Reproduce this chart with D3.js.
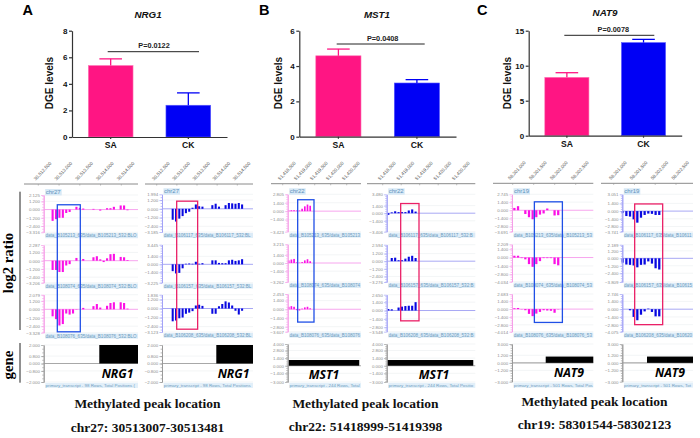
<!DOCTYPE html>
<html><head><meta charset="utf-8">
<script src="https://cdn.jsdelivr.net/npm/d3@7"></script>
<style>
html,body{margin:0;padding:0;background:#fff;overflow:hidden}
svg{display:block}
</style></head><body><svg id="c" width="700" height="438" font-family="Liberation Sans"></svg>
<script>
/* ---------- bar chart data ---------- */
const groups = ["SA","CK"];
const dgeNRG1 = [5.38,2.39], errNRG1 = [5.88,3.32], yTicksNRG1 = [0,2,4,6,8];
const dgeMST1 = [4.58,3.04], errMST1 = [4.96,3.23], yTicksMST1 = [0,2,4,6];
const dgeNAT9 = [8.34,13.3], errNAT9 = [9.0,13.76], yTicksNAT9 = [0,5,10,15];
const pLabels = ["P=0.0122","P=0.0408","P=0.0078"];
const locations = ["chr27: 30513007-30513481","chr22: 51418999-51419398","chr19: 58301544-58302123"];
const chroms = ["chr27","chr22","chr19"];
const transcriptRows = ["98","244","501"];

/* ---------- genome ruler ticks ---------- */
const rulerNRG1 = [30512500,30513000,30513500,30514000,30514500];
const rulerMST1 = [51418500,51419000,51419500,51420000,51420500];
const rulerNAT9 = [58301000,58301500,58302000,58302500];

/* ---------- probe values (one per probe slot) ---------- */
const nrgSA1 = [-1.65,-1.4,-1.2,-1.2,-.5,-.35,0,.4,.25,.15,0,0,.1,0,-.15,0,.2,.2,.4,0,.6,.6,-.1];
const nrgSA2 = [-1.35,-1.35,-1.65,-1.65,-.7,-.5,0,.4,0,.25,0,0,.5,.65,.2,-.2,.35,.95,1,0,.55,.5,.1];
const nrgSA3 = [-1,-1.4,-2.3,-2.1,-.6,-.75,-.6,-.05,0,.2,0,0,.45,.75,.25,0,.5,.9,1,0,1,.9,.1];
const nrgCK1 = [-1.5,-1.75,-1.35,-1,-.6,-.4,.15,.6,.35,.3,0,0,.5,.7,.3,0,.5,.8,.75,.7,.8,.6];
const nrgCK2 = [-1.2,-1.6,-1.5,-.7,.1,.15,.1,.45,.1,.2,0,0,.7,.7,.25,.2,.2,.7,.8,.6,.7,.9];
const nrgCK3 = [-1.7,-1.6,-1.3,-1.2,-.7,-.55,-.35,.4,.5,.35,0,0,-.7,-.7,.3,.6,.95,.8,.4,-.3,-.8,-.3];
const mstSA1 = [.1,.15,.15,.1,.1,.4,.8,1.1,.9];
const mstSA2 = [.45,.6,.7,.1,.05,.15,.45,.65,.3];
const mstSA3 = [.4,.5,.4,-.15,-.2,.1,.3,.4,.15];
const mstCK1 = [-.3,.15,.35,.2,.2,.2,.5,.7,.3];
const mstCK2 = [0,.5,.55,.15,.15,.4,.7,.85,.5];
const mstCK3 = [.25,.2,0,.5,.65,.75,.8,.8,1.4];
const natSA1 = [.4,.7,0,-.65,-1.2,-1.55,-1.2,-.75,-.55,.3,0,-.9,-.85];
const natSA2 = [.3,.3,-.1,-.3,-1.1,-1.55,-1.1,-.6,-.1,-.1,-.1,-1.1,-1.3];
const natSA3 = [.15,.2,-.05,-.2,-.85,-1.25,-.8,-.5,-.2,-.25,-.3,-.65,-.05];
const natCK1 = [-.3,-.9,-1,-1.5,-2.1,-1.2,-.7,-.45,-.5,-.7,-.7];
const natCK2 = [-.7,-1,-1.05,-1.15,-1.45,-1.05,-1,-.5,-.85,-1.6,-1.8];
const natCK3 = [0,0,-.2,-1.4,-2,-1,-.4,.1,-.5,-1.3,-1.3];

/* ---------- track y axis tick labels ---------- */
const ticksA1 = [[2.125,1.2,0,-1.2,-2.4,-3.316],[2.287,1.2,0,-1.2,-2.4,-3.206],[2.079,1.2,0,-1.2,-2.4,-3.328]];
const ticksA2 = [[1.994,1.2,0,-1.2,-2.4,-3.185],[3.445,1.4,0,-1.4,-3.225],[1.836,1.2,0,-1.2,-2.4,-3.123]];
const ticksB1 = [[2.805,1.4,0,-1.4,-3.423],[3.215,1.4,0,-1.4,-3.262],[2.453,1.4,0,-1.4,-2.8,-3.607]];
const ticksB2 = [[3.48,1.4,0,-1.4,-3.406],[2.594,1.2,0,-1.2,-2.4,-3.276],[2.65,1.4,0,-1.4,-2.8,-3.548]];
const ticksC1 = [[2.745,1.4,0,-1.4,-2.8,-3.691],[2.209,1.4,0,-1.4,-2.8,-4.034],[2.683,1.4,0,-1.4,-2.8,-4.014]];
const ticksC2 = [[3.051,1.4,0,-1.4,-2.8,-3.741],[2.189,1.2,0,-1.2,-2.4,-3.809],[2.746,1.4,0,-1.4,-2.8,-4.075]];
const geneTicksA = [2,.8,0,-.8,-2], geneTicksB = [4,2.8,1.4,0,-1.4,-3], geneTicksC = [3,1.2,0,-1.2,-3];
const exonHeights = [2,1.05,1];
const samplesSA = ["B105213","B108074","B108076"], samplesCK = ["B106117","B106157","B106208"];

/* ---------- layout ---------- */
const C_SA="#ff1583", C_CK="#0000f5", C_TSA="#fb10e6", C_TCK="#0808e0";
const barLayout = [
 {x0:72,x1:227,top:30.7,base:137,title:"NRG1",tx:148,ty:17.5,lx:22.5,lty:15,letter:"A",ylx:52.5,pl:[107.7,199,51.7],ptx:154,pty:48.3,dy:83},
 {x0:299.3,x1:456,top:30.7,base:136.7,title:"MST1",tx:377,ty:17.5,lx:259,lty:14.5,letter:"B",ylx:281.8,pl:[336.7,424.7,44],ptx:382.7,pty:41,dy:83},
 {x0:528.7,x1:681.7,top:30.7,base:135.7,title:"NAT9",tx:605,ty:16,lx:477,lty:15,letter:"C",ylx:510.5,pl:[564.3,654.3,35.3],ptx:613.3,pty:32.3,dy:83}
];
const barSeries=[[dgeNRG1,errNRG1,yTicksNRG1],[dgeMST1,errMST1,yTicksMST1],[dgeNAT9,errNAT9,yTicksNAT9]];
const columns = [
 {p:0,kind:"SA",ruler:rulerNRG1,r0:38.3,r1:121.3,rl:24,rr:138,left:43.7,right:138,ry:184,vals:[nrgSA1,nrgSA2,nrgSA3],ticks:ticksA1,start:30512845,step:82,
  rows:[[195,232.3],[245,282.7],[294.7,332.7]],box:[30512958,30513512,.7,-3.2],exon:[30513970,30516000],gt:geneTicksA,gy:[345,382],gl:[117.5,377.7]},
 {p:0,kind:"CK",ruler:rulerNRG1,r0:156.7,r1:237.3,rl:145,rr:253,left:162,right:253,ry:184,vals:[nrgCK1,nrgCK2,nrgCK3],ticks:ticksA2,start:30512897,step:82,
  rows:[[194.3,232],[244.7,282.7],[294.7,332]],box:[30512996,30513516,1.05,-2.75],exon:[30513979,30516000],gt:geneTicksA,gy:[345,382],gl:[233.5,377.7]},
 {p:1,kind:"SA",ruler:rulerMST1,r0:282.7,r1:346.7,rl:271,rr:361,left:287.7,right:361,ry:183.7,vals:[mstSA1,mstSA2,mstSA3],ticks:ticksB1,start:51418687,step:84,
  rows:[[194.3,231.7],[244.3,282],[294,331.7]],box:[51418968,51419478,1.9,-2.06],exon:[51418677,51420892],gt:geneTicksB,gy:[344,382],gl:[324,379]},
 {p:1,kind:"CK",ruler:rulerMST1,r0:382.7,r1:456.7,rl:367,rr:475.3,left:386.7,right:475.3,ry:183.7,vals:[mstCK1,mstCK2,mstCK3],ticks:ticksB2,start:51418653,step:92,
  rows:[[194.3,231.7],[244.7,282],[294.7,331.7]],box:[51418986,51419481,1.78,-1.73],exon:[51418617,51420948],gt:geneTicksB,gy:[344,382],gl:[434,379]},
 {p:2,kind:"SA",ruler:rulerNAT9,r0:512.7,r1:575.7,rl:493,rr:593.3,left:512,right:593.3,ry:183.3,vals:[natSA1,natSA2,natSA3],ticks:ticksC1,start:58301040,step:87,
  rows:[[194.3,231.7],[244.3,281.7],[294,331.7]],box:[58301516,58302183,1.45,-2.37],exon:[58301786,58303500],gt:geneTicksC,gy:[344,381.7],gl:[569,377]},
 {p:2,kind:"CK",ruler:rulerNAT9,r0:613.7,r1:676,rl:601,rr:693,left:622.3,right:693,ry:183.3,vals:[natCK1,natCK2,natCK3],ticks:ticksC2,start:58301217,step:88,
  rows:[[194.3,231.7],[244.7,282],[294,331.7]],box:[58301505,58302179,1.3,-2.8],exon:[58301802,58303500],gt:geneTicksC,gy:[344,381.7],gl:[670,377]}
];
const footers=[{cx:147.5,y1:408,y2:431.7},{cx:365.5,y1:408,y2:431},{cx:594.5,y1:406,y2:429}];

const svg=d3.select("#c");
const SERIF="Liberation Serif";

/* text that must stop at the edge of its track, as the viewer cuts it */
function fitText(sel,avail){
  const n=sel.node(); let t=sel.text();
  while(t.length>1 && n.getComputedTextLength()>avail){t=t.slice(0,-1);sel.text(t);}
}

/* ---------- bar charts ---------- */
barLayout.forEach((L,i)=>{
  const [vals,errs,ticks]=barSeries[i];
  const g=svg.append("g");
  const x=d3.scaleBand().domain(groups).range([L.x0,L.x1]).paddingInner(.424).paddingOuter(.21);
  const y=d3.scaleLinear().domain([0,d3.max(ticks)]).range([L.base,L.top]);
  g.selectAll("rect.b").data(groups).join("rect").attr("class","b")
    .attr("x",d=>x(d)).attr("width",x.bandwidth())
    .attr("y",(d,j)=>y(vals[j])).attr("height",(d,j)=>L.base-y(vals[j]))
    .attr("fill",(d,j)=>j?C_CK:C_SA).attr("stroke",(d,j)=>j?"#5a5aff":"#ff7ab8").attr("stroke-width",.6);
  groups.forEach((d,j)=>{
    const c=x(d)+x.bandwidth()/2, col=j?C_CK:C_SA;
    g.append("line").attr("x1",c).attr("x2",c).attr("y1",y(vals[j])).attr("y2",y(errs[j])).attr("stroke",col).attr("stroke-width",1.3);
    g.append("line").attr("x1",c-11.3).attr("x2",c+11.3).attr("y1",y(errs[j])).attr("y2",y(errs[j])).attr("stroke",col).attr("stroke-width",1.3);
  });
  const ya=g.append("g").attr("transform",`translate(${L.x0},0)`).call(d3.axisLeft(y).tickValues(ticks).tickSize(3).tickSizeOuter(0).tickFormat(d3.format("d")));
  const xa=g.append("g").attr("transform",`translate(0,${L.base})`).call(d3.axisBottom(x).tickSize(2).tickSizeOuter(0));
  [ya,xa].forEach(a=>{a.selectAll("path,line").attr("stroke","#333").attr("stroke-width",1.2);
    a.selectAll("text").attr("font-size",8).attr("font-weight","bold").attr("fill","#111").attr("font-family","Liberation Sans");});
  ya.selectAll("text").attr("dx",1.5);
  xa.selectAll("text").attr("y",5.2).attr("font-size",8.6);
  g.append("text").attr("transform",`translate(${L.ylx},${L.dy}) rotate(-90)`).attr("text-anchor","middle").attr("font-size",10).attr("font-weight","bold").attr("fill","#111").text("DGE levels");
  g.append("text").attr("x",L.lx).attr("y",L.lty).attr("font-size",14.5).attr("font-weight","bold").attr("fill","#000").text(L.letter);
  g.append("text").attr("x",L.tx).attr("y",L.ty).attr("text-anchor","middle").attr("font-size",9.8).attr("font-weight","bold").attr("font-style","italic").attr("fill","#111").text(L.title);
  g.append("line").attr("x1",L.pl[0]).attr("x2",L.pl[1]).attr("y1",L.pl[2]).attr("y2",L.pl[2]).attr("stroke","#222").attr("stroke-width",1);
  g.append("text").attr("x",L.ptx).attr("y",L.pty).attr("text-anchor","middle").attr("font-size",7.3).attr("font-weight","bold").attr("fill","#222").text(pLabels[i]);
});

/* ---------- genome tracks ---------- */
const fmt=d3.format(".3f");
function styleAxis(a,col,txt){
  a.select(".domain").attr("stroke",col).attr("stroke-width",.9);
  a.selectAll(".tick line").attr("stroke",col).attr("stroke-width",.7);
  a.selectAll("text").attr("font-size",4.4).attr("fill",txt).attr("font-family","Liberation Sans");
}
columns.forEach((c,ci)=>{
  const g=svg.append("g");
  const last=c.ruler[c.ruler.length-1], x=d3.scaleLinear().domain([c.ruler[0],last]).range([c.r0,c.r1]);
  const barW=x(c.start+c.step*.62)-x(c.start);
  const mark=c.kind==="SA"?C_TSA:C_TCK, axisCol=c.kind==="SA"?"#f59ee8":"#a2a2f6", zeroCol=c.kind==="SA"?"#f7a6ee":"#a8a8f4";
  const bandW=c.right-c.left-1.6;
  /* ruler */
  g.append("line").attr("x1",c.rl).attr("x2",c.rr).attr("y1",c.ry).attr("y2",c.ry).attr("stroke","#8a8a8a").attr("stroke-width",1);
  c.ruler.forEach(t=>{
    const px=x(t);
    g.append("line").attr("x1",px).attr("x2",px).attr("y1",c.ry).attr("y2",c.ry+1.6).attr("stroke","#999").attr("stroke-width",.6);
    g.append("text").attr("transform",`translate(${px-2.6},${c.ry-3.2}) rotate(-47)`).attr("font-size",4.7).attr("fill","#555").text(d3.format(",")(t));
  });
  /* data tracks */
  const yScales=c.rows.map((r,ri)=>{
    const tk=c.ticks[ri], y=d3.scaleLinear().domain([d3.min(tk),d3.max(tk)]).range([r[1],r[0]]);
    const tg=g.append("g");
    tg.selectAll("line.g").data(tk.filter(t=>t!==0)).join("line").attr("x1",c.left).attr("x2",c.right).attr("y1",d=>y(d)).attr("y2",d=>y(d)).attr("stroke","#eef0f2").attr("stroke-width",.7);
    tg.append("line").attr("x1",c.left).attr("x2",c.right).attr("y1",y(0)).attr("y2",y(0)).attr("stroke",zeroCol).attr("stroke-width",1);
    const vals=c.vals[ri];
    tg.selectAll("rect").data(vals.map((v,k)=>({v,k})).filter(d=>d.v!==0)).join("rect")
      .attr("x",d=>x(c.start+d.k*c.step)-barW/2).attr("width",barW)
      .attr("y",d=>y(Math.max(d.v,0))).attr("height",d=>Math.abs(y(d.v)-y(0))).attr("fill",mark);
    const minor=d3.range(Math.ceil(d3.min(tk)/.4)*.4,d3.max(tk),.4);
    styleAxis(tg.append("g").attr("transform",`translate(${c.left},0)`).call(d3.axisLeft(y).tickValues(minor).tickSize(1.4).tickSizeOuter(0).tickFormat("")),axisCol,"#999");
    styleAxis(tg.append("g").attr("transform",`translate(${c.left},0)`).call(d3.axisLeft(y).tickValues(tk).tickSize(2.6).tickSizeOuter(0).tickFormat(fmt).tickPadding(1.2)),axisCol,"#8d8d8d");
    /* sample band */
    const s=(c.kind==="SA"?samplesSA:samplesCK)[ri];
    tg.append("rect").attr("x",c.left+1.6).attr("y",r[1]+.9).attr("width",bandW).attr("height",5).attr("fill","#dcebf7");
    const st=tg.append("text").attr("x",c.left+1.8).attr("y",r[1]+4.9).attr("font-size",4.55).attr("fill","#6d9cc0").text(`data_${s}_635/data_${s}_532:BLOCK`);
    fitText(st,bandW-.4);
    return y;
  });
  /* chromosome tag */
  g.append("rect").attr("x",c.left+1.5).attr("y",c.rows[0][0]-6).attr("width",16.5).attr("height",6.4).attr("fill","#d8e9f6");
  g.append("text").attr("x",c.left+2).attr("y",c.rows[0][0]-.9).attr("font-size",6).attr("fill","#5f93bd").text(chroms[c.p]);
  /* gene track */
  const gy=d3.scaleLinear().domain([d3.min(c.gt),d3.max(c.gt)]).range([c.gy[1],c.gy[0]]);
  const gg=g.append("g");
  gg.selectAll("line.g").data(c.gt.filter(t=>t!==0)).join("line").attr("x1",c.left).attr("x2",c.right).attr("y1",d=>gy(d)).attr("y2",d=>gy(d)).attr("stroke","#eef0f2").attr("stroke-width",.7);
  gg.append("line").attr("x1",c.left).attr("x2",c.right).attr("y1",gy(0)).attr("y2",gy(0)).attr("stroke","#a8a8a8").attr("stroke-width",1.1);
  const ex0=x(c.exon[0]), ex1=Math.min(x(c.exon[1]),c.right);
  gg.append("rect").attr("x",ex0).attr("width",ex1-ex0).attr("y",gy(exonHeights[c.p])).attr("height",gy(0)-gy(exonHeights[c.p])).attr("fill","#000");
  const gMinor=d3.range(Math.ceil(d3.min(c.gt)/.4)*.4,d3.max(c.gt),.4);
  styleAxis(gg.append("g").attr("transform",`translate(${c.left},0)`).call(d3.axisLeft(gy).tickValues(gMinor).tickSize(1.4).tickSizeOuter(0).tickFormat("")),"#999","#999");
  styleAxis(gg.append("g").attr("transform",`translate(${c.left},0)`).call(d3.axisLeft(gy).tickValues(c.gt).tickSize(2.6).tickSizeOuter(0).tickFormat(fmt).tickPadding(1.2)),"#999","#8d8d8d");
  gg.append("rect").attr("x",c.left+1.6).attr("y",c.gy[1]+.9).attr("width",bandW).attr("height",5).attr("fill","#e2eff9");
  const pt=gg.append("text").attr("x",c.left+1.8).attr("y",c.gy[1]+4.9).attr("font-size",4.4).attr("fill","#6d9cc0").text(`primary_transcript - ${transcriptRows[c.p]} Rows, Total Positions (`);
  fitText(pt,bandW-.4);
  gg.append("text").attr("x",c.gl[0]).attr("y",c.gl[1]).attr("text-anchor","middle").attr("font-family","Open Sans").attr("font-size",12.2).attr("font-weight",700).attr("font-style","italic").attr("fill","#000").text(barLayout[c.p].title);
  /* highlight box */
  const [b0,b1,vTop,vBot]=c.box;
  g.append("rect").attr("x",x(b0)).attr("width",x(b1)-x(b0)).attr("y",yScales[0](vTop)).attr("height",yScales[2](vBot)-yScales[0](vTop))
    .attr("fill","none").attr("stroke",c.kind==="SA"?"#1f4fe6":"#ea2067").attr("stroke-width",1.3);
});

/* ---------- side labels ---------- */
svg.append("line").attr("x1",20).attr("x2",20).attr("y1",191.7).attr("y2",330).attr("stroke","#222").attr("stroke-width",1);
svg.append("line").attr("x1",20).attr("x2",20).attr("y1",343).attr("y2",382.7).attr("stroke","#222").attr("stroke-width",1);
svg.append("text").attr("transform","translate(12.5,263) rotate(-90)").attr("text-anchor","middle").attr("font-family",SERIF).attr("font-size",14.8).attr("font-weight","bold").attr("fill","#000").text("log2 ratio");
svg.append("text").attr("transform","translate(12.5,365) rotate(-90)").attr("text-anchor","middle").attr("font-family",SERIF).attr("font-size",14.8).attr("font-weight","bold").attr("fill","#000").text("gene");

/* ---------- footers ---------- */
footers.forEach((f,i)=>{
  [["Methylated peak location",f.y1],[locations[i],f.y2]].forEach(([t,y])=>{
    svg.append("text").attr("x",f.cx).attr("y",y).attr("text-anchor","middle").attr("font-family",SERIF).attr("font-size",13.5).attr("font-weight","bold").attr("fill","#111").text(t);
  });
});
</script></body></html>
